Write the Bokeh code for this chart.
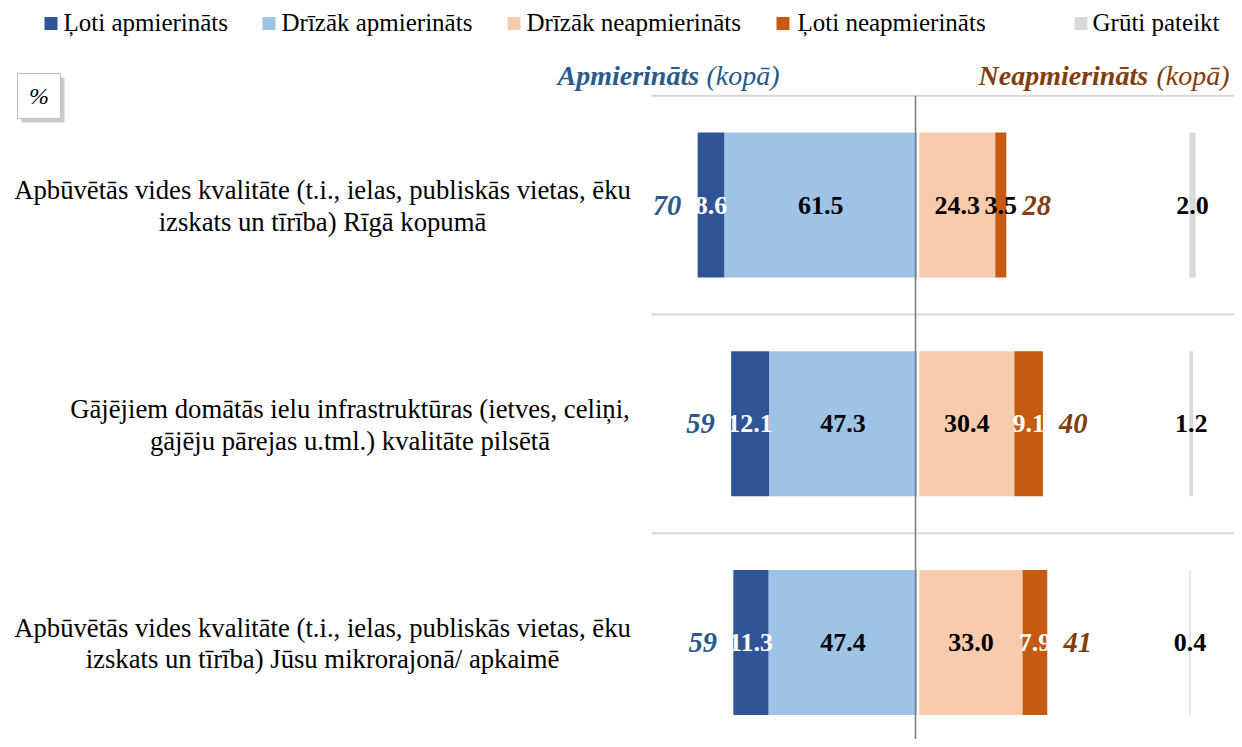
import numpy as np
from bokeh.plotting import figure
from bokeh.models import ColumnDataSource, Range1d
from bokeh.core.properties import value
from bokeh.embed import file_html
from bokeh.resources import INLINE

# ---------------- data ----------------
categories = [
    "Apbūvētās vides kvalitāte (t.i., ielas, publiskās vietas, ēku\nizskats un tīrība) Rīgā kopumā",
    "Gājējiem domātās ielu infrastruktūras (ietves, celiņi,\ngājēju pārejas u.tml.) kvalitāte pilsētā",
    "Apbūvētās vides kvalitāte (t.i., ielas, publiskās vietas, ēku\nizskats un tīrība) Jūsu mikrorajonā/ apkaimē",
]
loti_apm = [8.6, 12.1, 11.3]
drizak_apm = [61.5, 47.3, 47.4]
drizak_neapm = [24.3, 30.4, 33.0]
loti_neapm = [3.5, 9.1, 7.9]
gruti = [2.0, 1.2, 0.4]
series_names = ["Ļoti apmierināts", "Drīzāk apmierināts", "Drīzāk neapmierināts",
                "Ļoti neapmierināts", "Grūti pateikt"]
header_left = ["Apmierināts", "(kopā)"]
header_right = ["Neapmierināts", "(kopā)"]
unit_label = "%"

# ---------------- styles / layout ----------------
C_DB, C_LB, C_PE, C_OR, C_GR = "#2F5597", "#9DC3E6", "#F8CBAD", "#C55A11", "#D9D9D9"
C_TOT_L, C_TOT_R = "#2A5A8A", "#843C0C"
FONT = value("Liberation Serif")

W, H = 1234, 739
PX = 3.13          # pixels per percent
X0 = 915           # canvas px of zero
Y0, DY = 204.5, 218.75


def dx(px):
    return (px - X0) / PX


def dy(py):
    return (py - Y0) / DY


p = figure(width=W, height=H, output_backend="svg", toolbar_location=None,
           x_range=Range1d(-X0 / PX, (W - X0) / PX),
           y_range=Range1d((H - Y0) / DY, -Y0 / DY),
           x_axis_type=None, y_axis_type=None, min_border=0)
p.min_border_left = p.min_border_right = p.min_border_top = p.min_border_bottom = 0
p.outline_line_color = None
p.grid.visible = False
p.background_fill_color = "white"
p.border_fill_color = "white"

n = len(categories)
ys = np.arange(n)
a = np.array(loti_apm); b = np.array(drizak_apm)
c = np.array(drizak_neapm); d = np.array(loti_neapm); g = np.array(gruti)
L, R, G = 0.5, 1.2, 87.5
BH = 0.663

# separators
seps = np.arange(n + 1) - 0.5
p.segment(x0=dx(651), x1=200, y0=seps, y1=seps, line_color="#D9D9D9", line_width=2)

# bars
p.hbar(y=ys, left=L - (a + b), right=L - b, height=BH, fill_color=C_DB, line_color=None)
p.hbar(y=ys, left=L - b, right=L, height=BH, fill_color=C_LB, line_color=None)
p.hbar(y=ys, left=R, right=R + c, height=BH, fill_color=C_PE, line_color=None)
p.hbar(y=ys, left=R + c, right=R + c + d, height=BH, fill_color=C_OR, line_color=None)
p.hbar(y=ys, left=G, right=G + g, height=BH, fill_color=C_GR, line_color=None)

# center line
p.segment(x0=[0], x1=[0], y0=[-0.5], y1=[n + 0.5], line_color="#7F7F7F", line_width=1.6)

# value labels
vx = np.concatenate([L - b - a / 2, L - b / 2, R + c / 2, R + c + d / 2, G + g / 2])
vy = np.concatenate([ys] * 5)
vt = [f"{v:.1f}" for v in np.concatenate([a, b, c, d, g])]
vcol = (["white"] * n + ["black"] * n + ["black"] * n +
        ["black" if v < 5 else "white" for v in d] + ["black"] * n)
p.text(x="x", y="y", text="t", text_color="c",
       source=ColumnDataSource(dict(x=vx, y=vy, t=vt, c=vcol)),
       text_font=FONT, text_font_style="bold", text_font_size="26px",
       text_align="center", text_baseline="middle")

# totals
tl = a + b
tr = c + d
fmt = lambda t: str(int(np.floor(t + 0.5 + 1e-9)))
p.text(x=L - tl - 9.8, y=ys, text=[fmt(t) for t in tl], text_color=C_TOT_L,
       text_font=FONT, text_font_style="bold italic", text_font_size="28.5px",
       text_align="center", text_baseline="middle")
p.text(x=R + tr + 9.7, y=ys, text=[fmt(t) for t in tr], text_color=C_TOT_R,
       text_font=FONT, text_font_style="bold italic", text_font_size="28.5px",
       text_align="center", text_baseline="middle")

# category labels (blocks right-aligned near the plot, lines centred inside)
label_cx = [dx(322), dx(349.5), dx(322)]
p.text(x=label_cx, y=ys + 0.005, text=categories, text_color="black",
       text_font=FONT, text_font_size="26.7px", text_line_height=1.05,
       text_align="center", text_baseline="middle")

# headers
hy = dy(75)
p.text(x=[dx(557)], y=[hy], text=[header_left[0]], text_color=C_TOT_L, text_font=FONT,
       text_font_style="bold italic", text_font_size="28px", text_align="left",
       text_baseline="middle")
p.text(x=[dx(779)], y=[hy], text=[header_left[1]], text_color=C_TOT_L, text_font=FONT,
       text_font_style="italic", text_font_size="28px", text_align="right",
       text_baseline="middle")
p.text(x=[dx(978)], y=[hy], text=[header_right[0]], text_color=C_TOT_R, text_font=FONT,
       text_font_style="bold italic", text_font_size="28px", text_align="left",
       text_baseline="middle")
p.text(x=[dx(1229)], y=[hy], text=[header_right[1]], text_color=C_TOT_R, text_font=FONT,
       text_font_style="italic", text_font_size="28px", text_align="right",
       text_baseline="middle")

# legend (manual)
sq_left = [44, 262, 507, 776, 1074]
txt_left = [63, 281, 526, 797, 1092]
colors = [C_DB, C_LB, C_PE, C_OR, C_GR]
p.rect(x=[dx(s + 6.5) for s in sq_left], y=[dy(23)] * 5, width=13 / PX, height=13 / DY,
       fill_color=colors, line_color=None)
p.text(x=[dx(t) for t in txt_left], y=[dy(22)] * 5, text=series_names, text_color="black",
       text_font=FONT, text_font_size="25px", text_align="left", text_baseline="middle")

# "%" box
bx, by = dx(38.5), dy(95.5)
p.rect(x=[bx + 4 / PX], y=[by + 4 / DY], width=43 / PX, height=45 / DY,
       fill_color="#A6A6A6", fill_alpha=0.6, line_color=None)
p.rect(x=[bx], y=[by], width=43 / PX, height=45 / DY,
       fill_color="white", line_color="#BFBFBF", line_width=1)
p.text(x=[bx], y=[by], text=[unit_label], text_color="black", text_font=FONT,
       text_font_style="italic", text_font_size="24px", text_align="center",
       text_baseline="middle")

open("out.html", "w").write(file_html(p, INLINE))
